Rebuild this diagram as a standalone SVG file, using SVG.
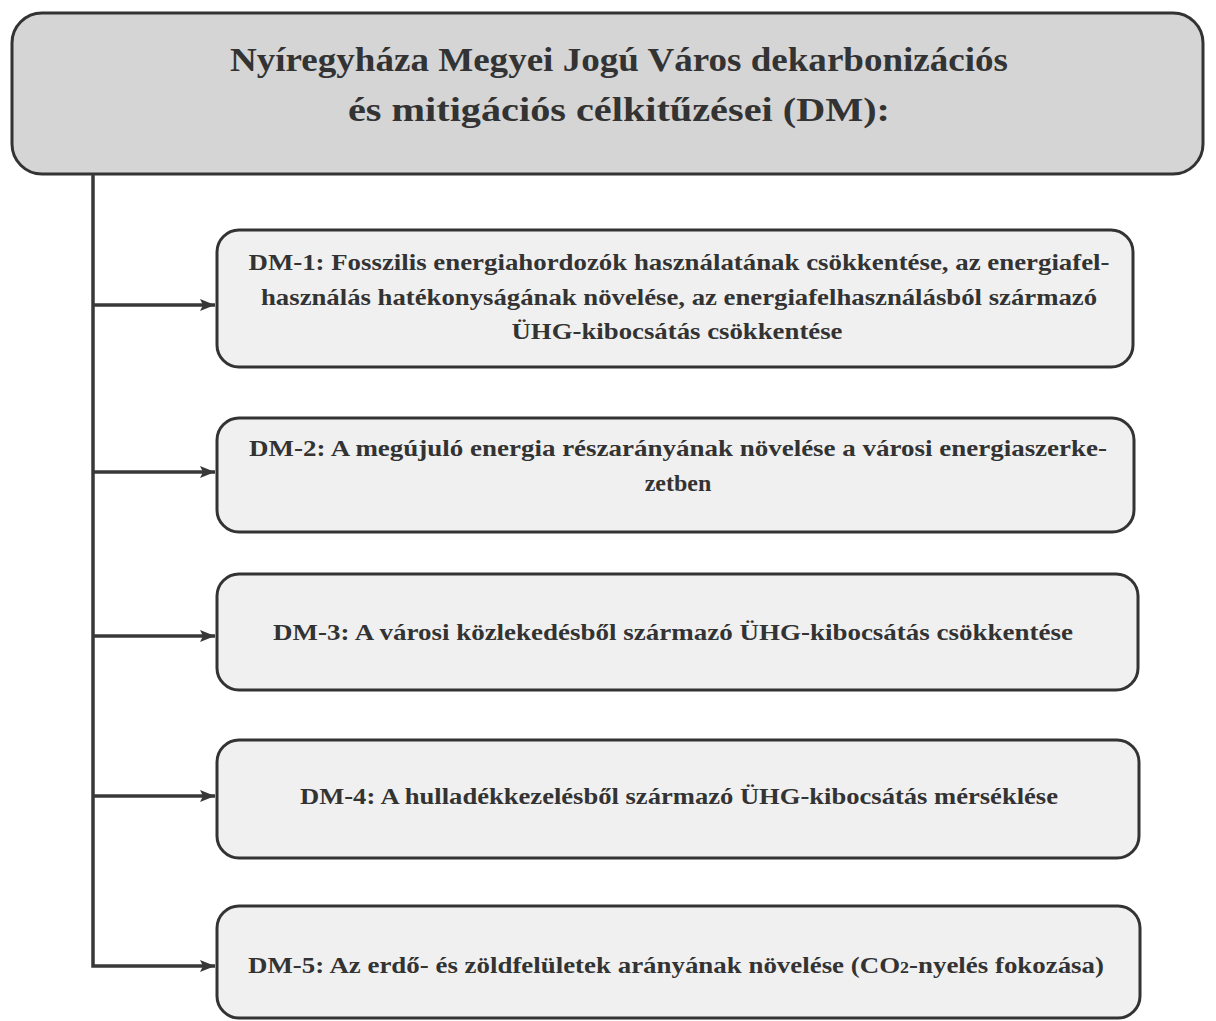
<svg xmlns="http://www.w3.org/2000/svg" width="1216" height="1021" viewBox="0 0 1216 1021">
<style>
.hdr{fill:#d5d5d5;stroke:#333;stroke-width:3}
.box{fill:#f0f0f0;stroke:#333;stroke-width:3}
.t{font-family:"Liberation Serif","Times New Roman",serif;font-weight:bold;fill:#333333;text-anchor:middle}
.ht{font-size:34px}
.bt{font-size:24px}
.c{fill:none;stroke:#383838;stroke-width:3.5}
</style>
<defs>
<marker id="ah" viewBox="0 0 15 12" refX="15" refY="6" markerWidth="15" markerHeight="12" markerUnits="userSpaceOnUse" orient="auto">
<path d="M0,0 L15,6 L0,12 L3,6 Z" fill="#383838"/>
</marker>
</defs>
<rect width="1216" height="1021" fill="#ffffff"/>
<g id="header">
<rect class="hdr" x="12" y="13" width="1191" height="161" rx="30" ry="30"/>
<text class="t ht" x="619" y="71" textLength="778" lengthAdjust="spacingAndGlyphs">Nyíregyháza Megyei Jogú Város dekarbonizációs</text>
<text class="t ht" x="619" y="121" textLength="542" lengthAdjust="spacingAndGlyphs">és mitigációs célkitűzései (DM):</text>
</g>
<g id="connectors">
<path class="c" d="M93,174 V966 H215" marker-end="url(#ah)"/>
<path class="c" d="M93,305 H215" marker-end="url(#ah)"/>
<path class="c" d="M93,472 H215" marker-end="url(#ah)"/>
<path class="c" d="M93,636 H215" marker-end="url(#ah)"/>
<path class="c" d="M93,796 H215" marker-end="url(#ah)"/>
</g>
<g id="dm1">
<rect class="box" x="217" y="230" width="916" height="137" rx="22" ry="22"/>
<text class="t bt" x="679" y="270" textLength="861" lengthAdjust="spacingAndGlyphs">DM-1: Fosszilis energiahordozók használatának csökkentése, az energiafel-</text>
<text class="t bt" x="679" y="305" textLength="836" lengthAdjust="spacingAndGlyphs">használás hatékonyságának növelése, az energiafelhasználásból származó</text>
<text class="t bt" x="677" y="339" textLength="331" lengthAdjust="spacingAndGlyphs">ÜHG-kibocsátás csökkentése</text>
</g>
<g id="dm2">
<rect class="box" x="217" y="418" width="917" height="114" rx="22" ry="22"/>
<text class="t bt" x="678" y="456" textLength="858" lengthAdjust="spacingAndGlyphs">DM-2: A megújuló energia részarányának növelése a városi energiaszerke-</text>
<text class="t bt" x="678" y="491">zetben</text>
</g>
<g id="dm3">
<rect class="box" x="217" y="574" width="921" height="116" rx="22" ry="22"/>
<text class="t bt" x="673" y="640" textLength="800" lengthAdjust="spacingAndGlyphs">DM-3: A városi közlekedésből származó ÜHG-kibocsátás csökkentése</text>
</g>
<g id="dm4">
<rect class="box" x="217" y="740" width="922" height="118" rx="22" ry="22"/>
<text class="t bt" x="679" y="804" textLength="758" lengthAdjust="spacingAndGlyphs">DM-4: A hulladékkezelésből származó ÜHG-kibocsátás mérséklése</text>
</g>
<g id="dm5">
<rect class="box" x="217" y="906" width="923" height="112" rx="22" ry="22"/>
<text class="t bt" x="676" y="973" textLength="856" lengthAdjust="spacingAndGlyphs">DM-5: Az erdő- és zöldfelületek arányának növelése (CO<tspan font-size="16px">2</tspan>-nyelés fokozása)</text>
</g>
</svg>
